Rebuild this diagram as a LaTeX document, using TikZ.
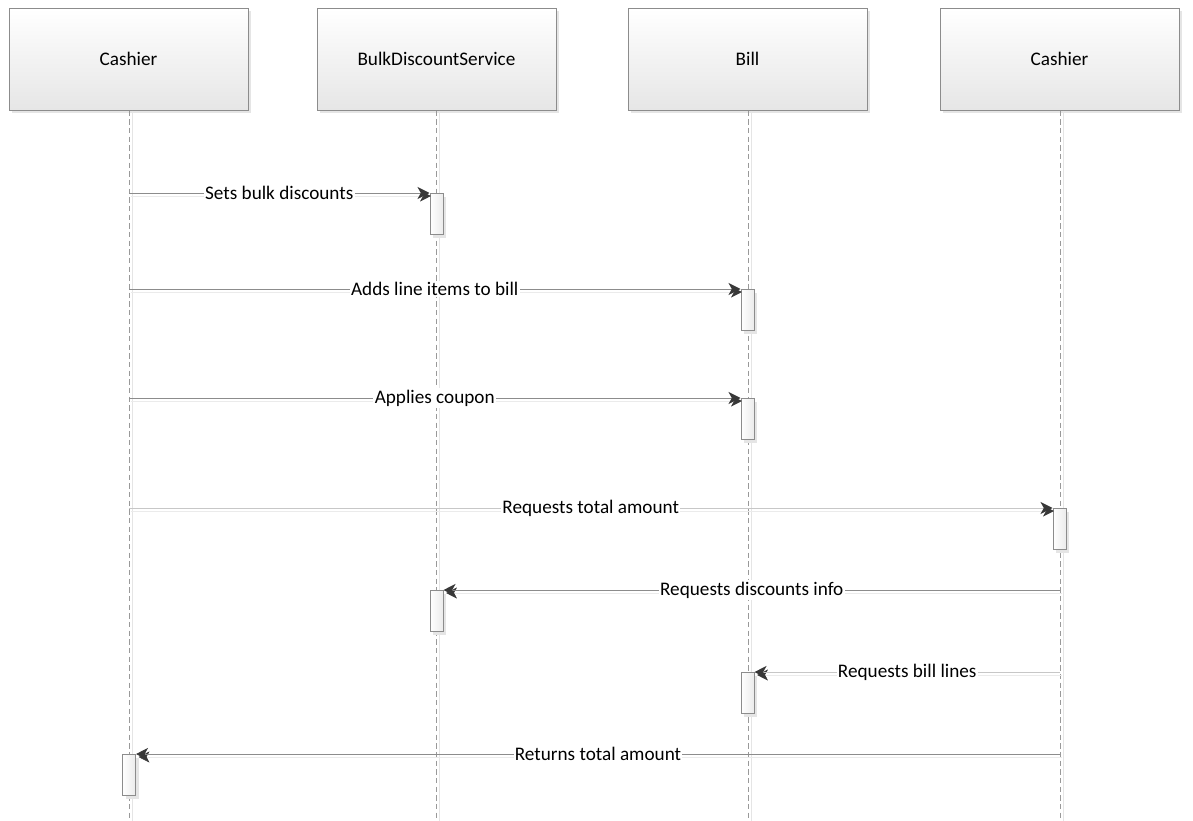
\documentclass[tikz,border=0pt]{standalone}
\usepackage{fontspec}
\setmainfont{Carlito}
\usetikzlibrary{arrows.meta,shadows}
\definecolor{edge}{HTML}{8C8C8C}
\definecolor{tipc}{HTML}{383838}
\definecolor{boxbot}{HTML}{E6E6E6}
\begin{document}
\begin{tikzpicture}[x=0.75pt,y=-0.75pt,
  every node/.style={font=\fontsize{14.4}{16}\selectfont},
  header/.style={draw=edge, line width=0.75pt, top color=white, bottom color=boxbot,
    minimum width=179.25pt, minimum height=76.5pt, inner sep=0pt,
    general shadow={fill=black!10, shadow xshift=2.25pt, shadow yshift=-2.25pt}},
  actbox/.style={draw=edge, line width=0.75pt, left color=white, right color=boxbot!80,
    minimum width=9.75pt, minimum height=30.75pt, inner sep=0pt, anchor=north,
    general shadow={fill=black!10, shadow xshift=2.25pt, shadow yshift=-2.25pt}},
  lifeline/.style={draw=black!40, line width=0.75pt, dash pattern=on 4pt off 2.5pt,
    preaction={draw=black!10, transform canvas={xshift=2.25pt}}},
  msg/.style={draw=#1, line width=0.75pt,
    -{Stealth[length=9pt, width=9pt, inset=2.5pt, color=tipc]},
    preaction={draw=black!8, transform canvas={xshift=1.5pt, yshift=-2.25pt}}},
  msg/.default=edge,
  lbl/.style={fill=white, inner sep=1pt, text=black}
]
\useasboundingbox (0,0) rectangle (1193,821);

% participants
\node[header] (h1) at (128.5,59) {Cashier};
\node[header] (h2) at (436.5,59) {BulkDiscountService};
\node[header] (h3) at (747.5,59) {Bill};
\node[header] (h4) at (1059.5,59) {Cashier};

% lifelines
\coordinate (e1) at (129,821);
\coordinate (e2) at (436,821);
\coordinate (e3) at (748,821);
\coordinate (e4) at (1060,821);
\draw[lifeline] (h1.south -| e1) -- (e1);
\draw[lifeline] (h2.south -| e2) -- (e2);
\draw[lifeline] (h3.south -| e3) -- (e3);
\draw[lifeline] (h4.south -| e4) -- (e4);

% activations
\node[actbox] (a1) at (436.5,193) {};
\node[actbox] (a2) at (747.5,289) {};
\node[actbox] (a3) at (747.5,398) {};
\node[actbox] (a4) at (1059.5,508) {};
\node[actbox] (a5) at (436.5,590) {};
\node[actbox] (a6) at (747.5,672) {};
\node[actbox] (a7) at (129,754) {};

% message sources on the lifelines
\coordinate (s1) at (129,193);
\coordinate (s2) at (129,289);
\coordinate (s3) at (129,398);
\coordinate (s4) at (129,508);
\coordinate (s5) at (1060,590);
\coordinate (s6) at (1060,672);
\coordinate (s7) at (1060,754);

% messages
\draw[msg] (s1) -- node[lbl] {Sets bulk discounts} (a1.north west);
\draw[msg] (s2) -- node[lbl] {Adds line items to bill} (a2.north west);
\draw[msg] (s3) -- node[lbl] {Applies coupon} (a3.north west);
\draw[msg=black!22] (s4) -- node[lbl] {Requests total amount} (a4.north west);
\draw[msg] (s5) -- node[lbl] {Requests discounts info} (a5.north east);
\draw[msg=black!22] (s6) -- node[lbl] {Requests bill lines} (a6.north east);
\draw[msg] (s7) -- node[lbl] {Returns total amount} (a7.north east);
\end{tikzpicture}
\end{document}
